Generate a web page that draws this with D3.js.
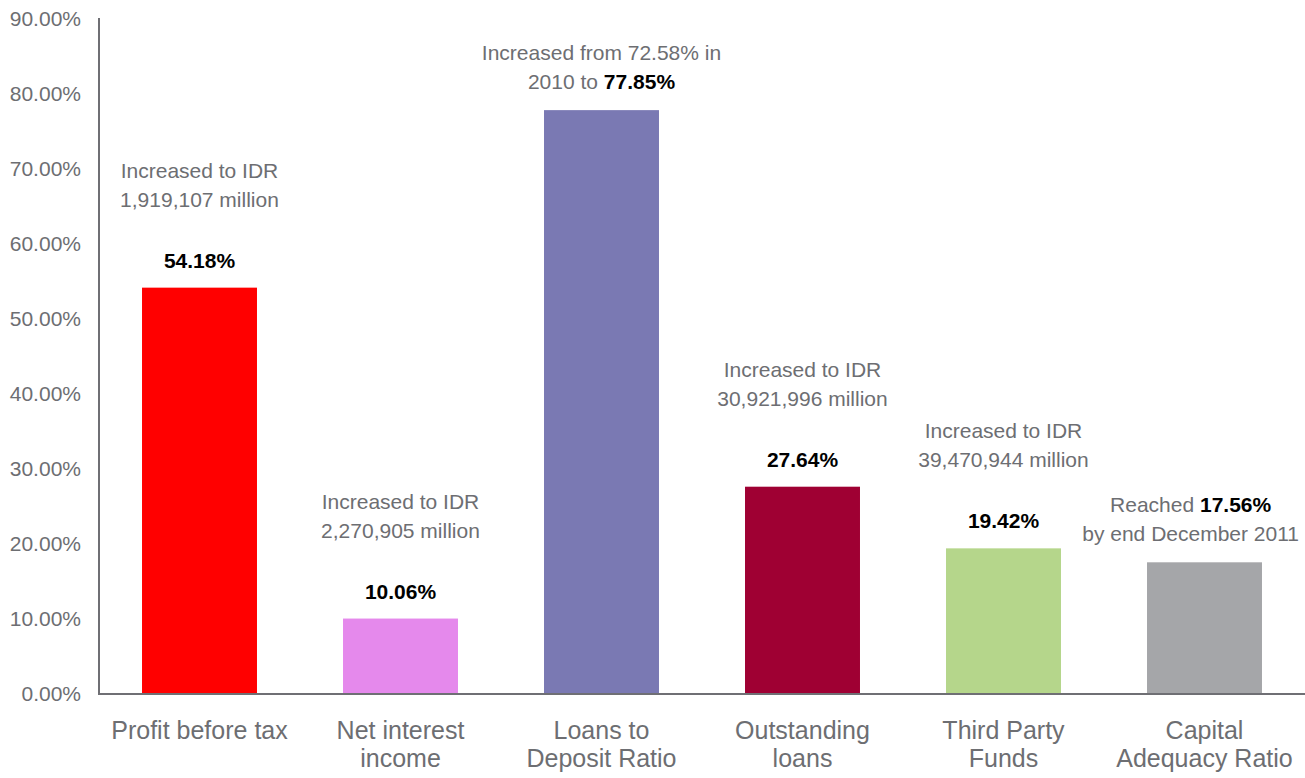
<!DOCTYPE html>
<html>
<head>
<meta charset="utf-8">
<script src="https://cdn.jsdelivr.net/npm/d3@7"></script>
<style>
  html, body { margin: 0; padding: 0; background: #ffffff; }
  svg { display: block; font-family: "Liberation Sans", Arial, sans-serif; }
</style>
</head>
<body>
<svg id="chart" width="1305" height="778"></svg>
<script>
const categories = [
  ["Profit before tax"],
  ["Net interest", "income"],
  ["Loans to", "Deposit Ratio"],
  ["Outstanding", "loans"],
  ["Third Party", "Funds"],
  ["Capital", "Adequacy Ratio"]
];
const values = [54.18, 10.06, 77.85, 27.64, 19.42, 17.56];
const barColors = ["#ff0000", "#e589ec", "#7a79b3", "#9f0033", "#b5d68b", "#a5a6a9"];
const noteLines = [
  ["Increased to IDR", "1,919,107 million"],
  ["Increased to IDR", "2,270,905 million"],
  ["Increased from 72.58% in", "2010 to {v}"],
  ["Increased to IDR", "30,921,996 million"],
  ["Increased to IDR", "39,470,944 million"],
  ["Reached {v}", "by end December 2011"]
];
const tickValues = [0, 10, 20, 30, 40, 50, 60, 70, 80, 90];

(function () {
const W = 1305;
const plotLeft = 99, plotRight = 1305, plotTop = 19, plotBottom = 694;
const textGray = "#6d6e72";
const axisGray = "#6f6f74";

const svg = d3.select("#chart");
const idx = d3.range(values.length);

const x = d3.scaleBand().domain(idx).range([plotLeft, plotRight]).paddingInner(0.428).paddingOuter(0.214);
const y = d3.scaleLinear().domain([0, 90]).range([plotBottom, plotTop]);
const fmt = v => v.toFixed(2) + "%";

// y axis
const yAxis = d3.axisLeft(y).tickValues(tickValues).tickSize(0).tickPadding(18).tickFormat(fmt);
const gy = svg.append("g").attr("transform", `translate(${plotLeft},0)`).call(yAxis);
gy.select(".domain").attr("stroke", axisGray).attr("stroke-width", 2).attr("d", `M0,${plotTop - 1}V${plotBottom}`);
gy.selectAll("text").attr("fill", textGray).attr("font-size", 21).attr("font-family", "Liberation Sans, Arial, sans-serif");

// bars
svg.append("g").selectAll("rect").data(idx).join("rect")
  .attr("x", i => x(i))
  .attr("width", x.bandwidth())
  .attr("y", i => y(values[i]))
  .attr("height", i => y(0) - y(values[i]))
  .attr("fill", i => barColors[i]);

// x axis
const xAxis = d3.axisBottom(x).tickSize(0).tickFormat("");
const gx = svg.append("g").attr("transform", `translate(0,${plotBottom})`).call(xAxis);
gx.select(".domain").attr("stroke", axisGray).attr("stroke-width", 2).attr("d", `M${plotLeft - 1},0H${plotRight}`);

// category labels
const catG = svg.append("g");
idx.forEach(i => {
  const t = catG.append("text")
    .attr("text-anchor", "middle")
    .attr("font-size", 25)
    .attr("fill", textGray);
  categories[i].forEach((line, k) => {
    t.append("tspan").attr("x", x(i) + x.bandwidth() / 2).attr("y", plotBottom + 45 + k * 28).text(line);
  });
});

// annotations
const noteG = svg.append("g");
idx.forEach(i => {
  const cx = x(i) + x.bandwidth() / 2;
  const yTop = y(values[i]);
  const inline = noteLines[i].some(l => l.includes("{v}"));
  const offsets = inline ? [-50, -21] : [-110, -81];
  const texts = [];
  noteLines[i].forEach((line, k) => {
    const t = noteG.append("text")
      .attr("text-anchor", "middle")
      .attr("font-size", 21)
      .attr("fill", textGray)
      .attr("x", cx)
      .attr("y", yTop + offsets[k]);
    const parts = line.split("{v}");
    parts.forEach((p, j) => {
      if (p) t.append("tspan").text(p);
      if (j < parts.length - 1) {
        t.append("tspan").attr("font-weight", "bold").attr("fill", "#000000").text(fmt(values[i]));
      }
    });
    texts.push(t);
  });
  if (!inline) {
    noteG.append("text")
      .attr("text-anchor", "middle")
      .attr("font-size", 21)
      .attr("font-weight", "bold")
      .attr("fill", "#000000")
      .attr("x", cx)
      .attr("y", yTop - 20)
      .text(fmt(values[i]));
  }
  // keep the note block inside the chart's right edge
  const maxRight = d3.max(texts, t => t.node().getBBox().x + t.node().getBBox().width);
  const limit = W - 6;
  if (maxRight > limit) {
    const shift = maxRight - limit;
    texts.forEach(t => t.attr("x", cx - shift));
  }
});
})();
</script>
</body>
</html>
